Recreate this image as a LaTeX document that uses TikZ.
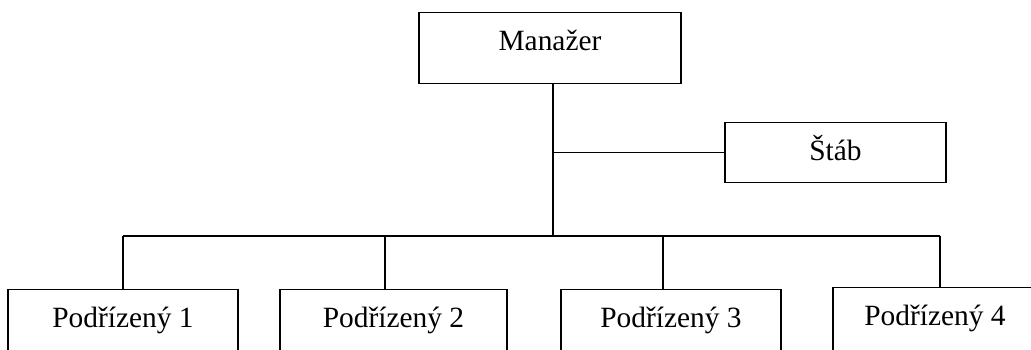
\documentclass[tikz,border=0pt]{standalone}
\usepackage{fontspec}
\setmainfont{Liberation Serif}
\tikzset{
  unit/.style={box/.style={draw,line width=0.6pt,inner sep=0pt,anchor=north,text height=19pt,font=\fontsize{14.7}{17}\selectfont}},
}
\begin{document}
\begin{tikzpicture}[x=0.5pt,y=-0.5pt,line width=0.6pt,unit]
\useasboundingbox (0,0) rectangle (1031,349);
\clip (0,0) rectangle (1031,349);
% Boxes
\node[box,minimum width=131pt,text depth=16.5pt] (mgr) at (550,12) {Manažer};
\node[box,minimum width=110.5pt,text depth=11pt] (stab) at (835.5,122) {Štáb};
\node[box,minimum width=115pt,text depth=30pt] (p1) at (123,289) {Podřízený 1};
\node[box,minimum width=113.5pt,text depth=30pt] (p2) at (393.5,289) {Podřízený 2};
\node[box,minimum width=110pt,text depth=30pt] (p3) at (671,289) {Podřízený 3};
\node[box,minimum width=102pt,text depth=30pt] (p4) at (935,287) {Podřízený 4};
% Lines
\coordinate (trunk) at (553,236);
\coordinate (d1) at (123,236);
\coordinate (d2) at (385,236);
\coordinate (d3) at (663,236);
\coordinate (d4) at (940,236);
\draw (trunk |- mgr.south) -- (trunk);
\draw (trunk |- stab.west) -- (stab.west);
\draw (d1) -- (d4);
\draw (d1) -- (d1 |- p1.north);
\draw (d2) -- (d2 |- p2.north);
\draw (d3) -- (d3 |- p3.north);
\draw (d4) -- (d4 |- p4.north);
\end{tikzpicture}
\end{document}
